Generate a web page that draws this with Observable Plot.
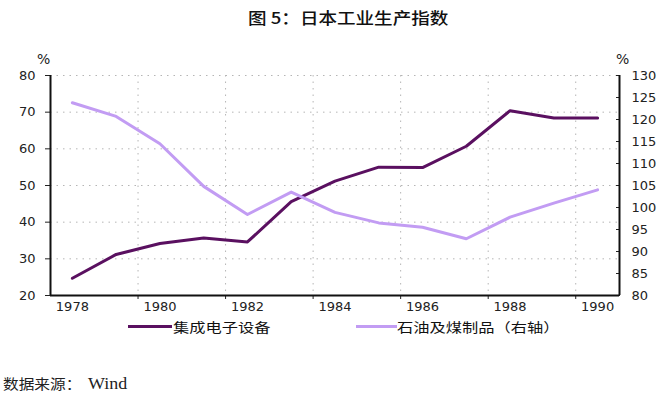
<!DOCTYPE html>
<html>
<head>
<meta charset="utf-8">
<script src="https://cdn.jsdelivr.net/npm/d3@7"></script>
<script src="https://cdn.jsdelivr.net/npm/@observablehq/plot@0.6"></script>
<style>
  html, body { margin: 0; padding: 0; background: #fff; }
  #wrap { position: relative; width: 666px; height: 399px; overflow: hidden; background: #fff; }
  .abs { position: absolute; white-space: nowrap; }
  #title { left: 248px; top: 7px; font-family: "Noto Sans CJK SC", sans-serif; font-size: 16px; font-weight: 500; color: #111; transform: scaleX(1.16); transform-origin: left center; line-height: 20px; }
  .pct { font-family: "DejaVu Sans", sans-serif; font-size: 14px; color: #222; top: 50px; line-height: 18px; }
  .legline { height: 3px; top: 325px; }
  .legtext { top: 318px; font-family: "Noto Sans CJK SC", sans-serif; font-size: 13px; color: #111; line-height: 18px; transform: scaleX(1.25); transform-origin: left center; }
  #caption { left: 3px; top: 373px; font-size: 14px; color: #222; line-height: 20px; transform: scaleX(1.12); transform-origin: left center; }
  #caption .cjk { font-family: "Noto Sans CJK SC", sans-serif; }
  #caption .lat { font-family: "Liberation Serif", serif; font-size: 16px; margin-left: 6px; }
  #chart { position: absolute; left: 0; top: 40px; }
</style>
</head>
<body>
<div id="wrap">
  <div id="title" class="abs">图 5：日本工业生产指数</div>
  <div class="abs pct" style="left:37px;">%</div>
  <div class="abs pct" style="left:616px;">%</div>
  <div id="chart"></div>
  <div id="legend"></div>
  <div id="caption" class="abs"><span class="cjk">数据来源：</span><span class="lat">Wind</span></div>
</div>
<script>
// ---- data ----
const years = [1978, 1979, 1980, 1981, 1982, 1983, 1984, 1985, 1986, 1987, 1988, 1989, 1990];
const seriesNames = ["集成电子设备", "石油及煤制品（右轴）"];
const electronics = [24.7, 31.2, 34.2, 35.7, 34.6, 45.6, 51.2, 55.0, 54.9, 60.7, 70.4, 68.4, 68.4];
const petroleum = [123.8, 120.7, 114.5, 104.8, 98.4, 103.5, 98.9, 96.5, 95.5, 92.9, 97.8, 101.0, 104.0];
const leftTicks = [20, 30, 40, 50, 60, 70, 80];
const rightTicks = [80, 85, 90, 95, 100, 105, 110, 115, 120, 125, 130];
const xLabels = [1978, 1980, 1982, 1984, 1986, 1988, 1990];
const colors = ["#5a1060", "#c29cf3"];

// ---- scales helpers ----
const leftDomain = [leftTicks[0], leftTicks[leftTicks.length - 1]];
const rightDomain = [rightTicks[0], rightTicks[rightTicks.length - 1]];
const toLeft = r => leftDomain[0] + (r - rightDomain[0]) * (leftDomain[1] - leftDomain[0]) / (rightDomain[1] - rightDomain[0]);
const toRight = l => rightDomain[0] + (l - leftDomain[0]) * (rightDomain[1] - rightDomain[0]) / (leftDomain[1] - leftDomain[0]);
const xDomain = [years[0] - 0.5, years[years.length - 1] + 0.5];
const xBoundaries = xLabels.slice(1).map(y => y - 0.5);

const rows = [
  ...years.map((year, i) => ({year, value: electronics[i], series: seriesNames[0]})),
  ...years.map((year, i) => ({year, value: toLeft(petroleum[i]), series: seriesNames[1]}))
];

const grid = {stroke: "#b5b5b5", strokeOpacity: 1, strokeWidth: 1, strokeDasharray: "1.5,5"};

const chart = Plot.plot({
  width: 666,
  height: 280,
  marginTop: 35,
  marginBottom: 25,
  marginLeft: 50,
  marginRight: 47,
  x: {type: "linear", domain: xDomain},
  y: {domain: leftDomain},
  color: {domain: seriesNames, range: colors},
  style: {fontFamily: "DejaVu Sans, sans-serif", fontSize: "13px", color: "#222", background: "transparent"},
  marks: [
    Plot.gridY(leftTicks.slice(1), grid),
    Plot.gridX(xBoundaries, grid),
    Plot.axisY({anchor: "left", ticks: leftTicks, tickSize: 5, tickPadding: 10, label: null}),
    Plot.axisY({anchor: "right", ticks: rightTicks.map(toLeft), tickFormat: d => String(Math.round(toRight(d))), tickSize: 4, dx: -4, tickPadding: 12, label: null}),
    Plot.axisX({ticks: xBoundaries, tickSize: 4, tickFormat: () => "", label: null}),
    Plot.axisX({ticks: xLabels, tickSize: 0, tickPadding: 6, tickFormat: d => String(d), label: null}),
    Plot.ruleX(xDomain, {stroke: "#111", strokeWidth: 2}),
    Plot.ruleY([leftDomain[0]], {stroke: "#111", strokeWidth: 2}),
    Plot.line(rows, {x: "year", y: "value", z: "series", stroke: "series", strokeWidth: 3, strokeLinejoin: "round", curve: "linear"})
  ]
});
document.getElementById("chart").appendChild(chart);

// ---- legend ----
const legend = document.getElementById("legend");
const legPos = [{line: 128, w: 44, text: 173}, {line: 356, w: 41, text: 397}];
seriesNames.forEach((name, i) => {
  const ln = document.createElement("div");
  ln.className = "abs legline";
  ln.style.left = legPos[i].line + "px";
  ln.style.width = legPos[i].w + "px";
  ln.style.background = colors[i];
  legend.appendChild(ln);
  const t = document.createElement("div");
  t.className = "abs legtext";
  t.style.left = legPos[i].text + "px";
  t.textContent = name;
  legend.appendChild(t);
});
</script>
</body>
</html>
